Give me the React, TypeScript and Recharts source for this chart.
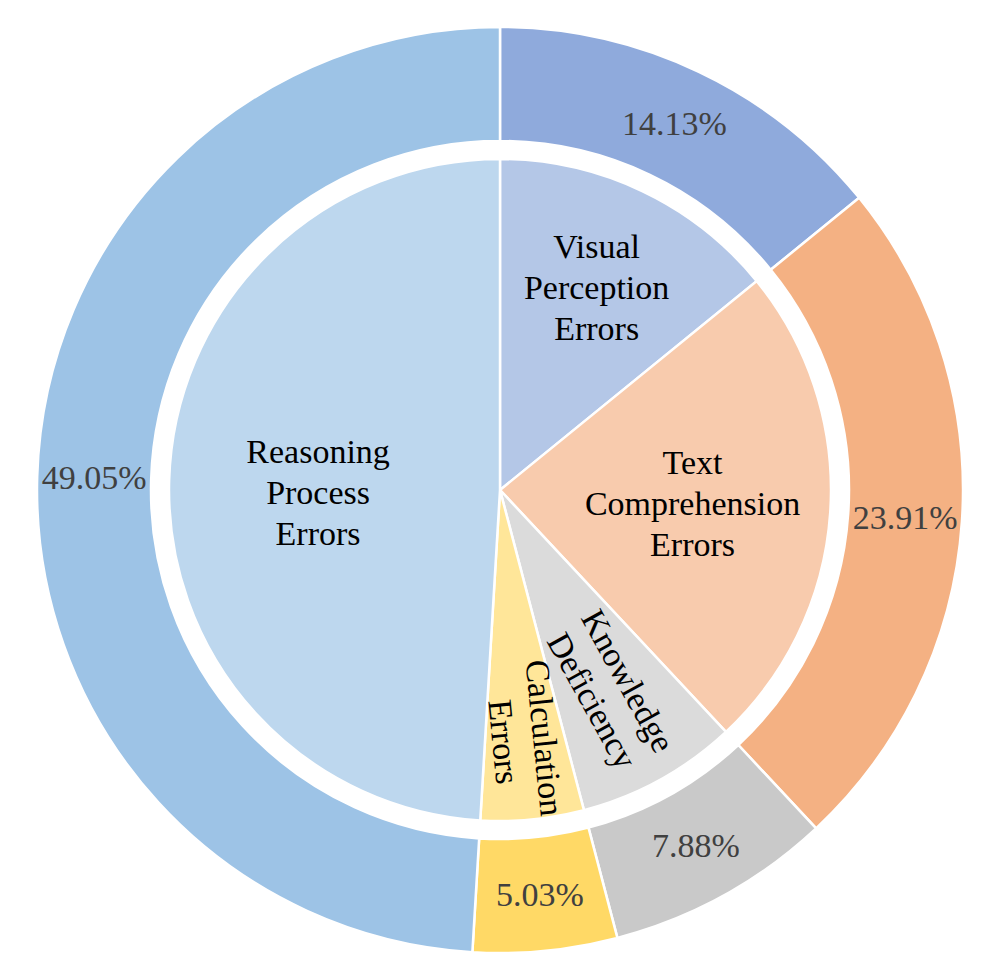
import React from "react";
import { PieChart, Pie, Cell } from "recharts";

const categories = [
  "Visual Perception Errors",
  "Text Comprehension Errors",
  "Knowledge Deficiency",
  "Calculation Errors",
  "Reasoning Process Errors",
];
const shares = [14.13, 23.91, 7.88, 5.03, 49.05];
const innerLabelLines = [
  ["Visual", "Perception", "Errors"],
  ["Text", "Comprehension", "Errors"],
  ["Knowledge", "Deficiency"],
  ["Calculation", "Errors"],
  ["Reasoning", "Process", "Errors"],
];
const outerColors = ["#8FAADC", "#F4B183", "#C9C9C9", "#FFD966", "#9DC3E6"];
const innerColors = ["#B4C7E7", "#F8CBAD", "#DBDBDB", "#FFE699", "#BDD7EE"];
const innerLabelRadius = [225, 193, 229, 251, 182];
const innerLabelDy = [0, 0, 0, 0, 7];
const innerLabelRotate = [false, false, true, true, false];

const data = categories.map((name, i) => ({ name, value: shares[i] }));

const RAD = Math.PI / 180;
const FONT = "'Liberation Serif', 'Times New Roman', serif";
const FS = 34;
const LH = 41;

const outerLabel = (props: any) => {
  const { cx, cy, midAngle, index } = props;
  const r = 406;
  const x = cx + r * Math.cos(-midAngle * RAD);
  const y = cy + r * Math.sin(-midAngle * RAD);
  return (
    <text
      x={x}
      y={y}
      fill="#404040"
      fontSize={FS}
      fontFamily={FONT}
      textAnchor="middle"
      dominantBaseline="central"
    >
      {shares[index].toFixed(2) + "%"}
    </text>
  );
};

const innerLabel = (props: any) => {
  const { cx, cy, midAngle, index } = props;
  const r = innerLabelRadius[index];
  const x = cx + r * Math.cos(-midAngle * RAD);
  const y = cy + r * Math.sin(-midAngle * RAD) + innerLabelDy[index];
  const lines = innerLabelLines[index];
  const rot = innerLabelRotate[index] ? -midAngle : 0;
  const startY = y - ((lines.length - 1) * LH) / 2;
  return (
    <text
      x={x}
      y={startY}
      fill="#000000"
      fontSize={FS}
      fontFamily={FONT}
      textAnchor="middle"
      dominantBaseline="central"
      transform={rot ? `rotate(${rot}, ${x}, ${y})` : undefined}
    >
      {lines.map((l, i) => (
        <tspan key={i} x={x} y={startY + i * LH} dominantBaseline="central">
          {l}
        </tspan>
      ))}
    </text>
  );
};

export default function App() {
  return (
    <div style={{ width: 970, height: 964 }}>
      <PieChart
        width={970}
        height={964}
        margin={{ top: 0, right: 0, bottom: 0, left: 0 }}
      >
        <Pie
          data={data}
          dataKey="value"
          nameKey="name"
          cx={492}
          cy={482}
          innerRadius={0}
          outerRadius={331}
          startAngle={90}
          endAngle={-270}
          stroke="#FFFFFF"
          strokeWidth={2.5}
          label={innerLabel}
          labelLine={false}
          isAnimationActive={false}
        >
          {data.map((d, i) => (
            <Cell key={d.name} fill={innerColors[i]} />
          ))}
        </Pie>
        <Pie
          data={data}
          dataKey="value"
          nameKey="name"
          cx={492}
          cy={482}
          innerRadius={349}
          outerRadius={463}
          startAngle={90}
          endAngle={-270}
          stroke="#FFFFFF"
          strokeWidth={2.5}
          label={outerLabel}
          labelLine={false}
          isAnimationActive={false}
        >
          {data.map((d, i) => (
            <Cell key={d.name} fill={outerColors[i]} />
          ))}
        </Pie>
      </PieChart>
    </div>
  );
}
